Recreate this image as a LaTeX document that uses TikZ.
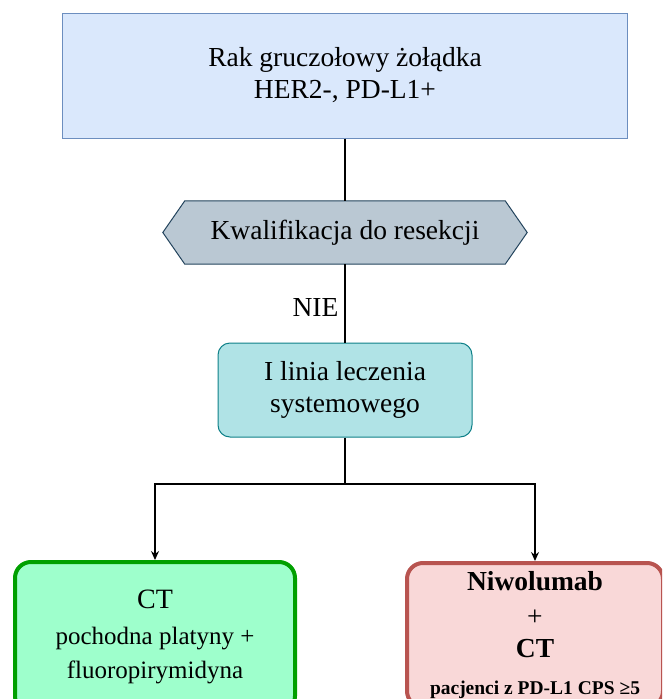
\documentclass[tikz,border=0pt]{standalone}
\usepackage{fontspec}
\setmainfont{Liberation Serif}
\usetikzlibrary{arrows.meta,backgrounds}
\definecolor{topfill}{HTML}{DAE8FC}
\definecolor{topline}{HTML}{6C8EBF}
\definecolor{hexfill}{HTML}{BAC8D3}
\definecolor{hexline}{HTML}{23445D}
\definecolor{midfill}{HTML}{B0E3E6}
\definecolor{midline}{HTML}{0E8088}
\definecolor{gfill}{HTML}{9EFFCC}
\definecolor{gline}{HTML}{00A000}
\definecolor{rfill}{HTML}{F9D8D8}
\definecolor{rline}{HTML}{B85450}
\tikzset{
  basefont/.style={font=\fontsize{27.5}{32}\selectfont},
  topbox/.style={basefont, draw=topline, fill=topfill, line width=1pt, minimum width=565pt, minimum height=125pt, align=center, inner sep=0pt},
  hexbox/.style={basefont, minimum width=364pt, minimum height=63pt, inner sep=0pt},
  hexshape/.style={draw=hexline, fill=hexfill, line width=1pt},
  midbox/.style={basefont, draw=midline, fill=midfill, line width=1pt, rounded corners=12pt, minimum width=254pt, minimum height=94pt, align=center, inner sep=0pt},
  gbox/.style={font=\fontsize{25}{34}\selectfont, draw=gline, fill=gfill, line width=4pt, rounded corners=16pt, minimum width=280pt, minimum height=150pt, align=center, inner sep=0pt},
  rbox/.style={font=\fontsize{25}{32}\selectfont, draw=rline, fill=rfill, line width=4pt, rounded corners=16pt, minimum width=256pt, minimum height=144pt, align=center, inner sep=0pt},
  conn/.style={line width=1.3pt, draw=black},
  arr/.style={conn, -{Stealth[length=9pt,width=8pt,inset=3pt]}},
}
\begin{document}
\begin{tikzpicture}[x=1pt,y=-1pt]
\useasboundingbox (0,0) rectangle (662,699);
\clip (0,0) rectangle (662,699);
\node[topbox] (top) at (345,75.5) {Rak gruczołowy żołądka\\HER2-, PD-L1+};
\node[hexbox] (hex) at (345,232.5) {Kwalifikacja do resekcji};
\begin{scope}[on background layer]
\draw[hexshape] (hex.west) -- ([xshift=22pt]hex.north west) -- ([xshift=-22pt]hex.north east) -- (hex.east) -- ([xshift=-22pt]hex.south east) -- ([xshift=22pt]hex.south west) -- cycle;
\end{scope}
\node[midbox] (mid) at (345,390) {I linia leczenia\\systemowego};
\node[gbox] (green) at (155,637) {{\fontsize{28}{34}\selectfont CT}\\[2pt]pochodna platyny +\\fluoropirymidyna};
\node[rbox] (red) at (535,635) {{\fontsize{27.5}{32}\selectfont\bfseries Niwolumab}\\[3pt]{\fontsize{27.5}{32}\selectfont +}\\{\fontsize{27.5}{32}\selectfont\bfseries CT}\\[5pt]{\fontsize{19.5}{32}\selectfont\bfseries pacjenci z PD-L1 CPS ≥5}};
\coordinate (split) at (345,484);
\draw[conn] (top.south) -- (hex.north);
\draw[conn] (hex.south) -- node[basefont, left, inner sep=6pt, yshift=-4pt] (nie) {NIE} (mid.north);
\draw[conn] (mid.south) -- (split);
\draw[arr] (split) -| (green.north);
\draw[arr] (split) -| (red.north);
\end{tikzpicture}
\end{document}
